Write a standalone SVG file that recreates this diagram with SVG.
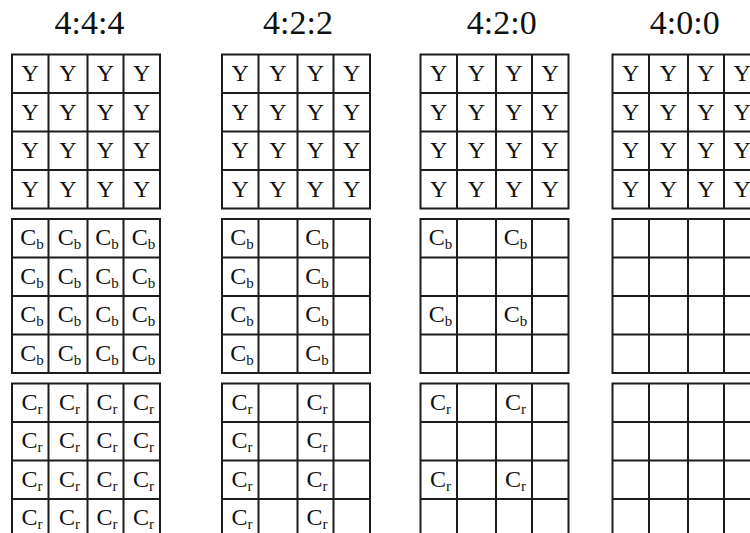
<svg xmlns="http://www.w3.org/2000/svg" xmlns:xlink="http://www.w3.org/1999/xlink" width="750" height="533" viewBox="0 0 750 533">
<style>
.g{fill:none;stroke:#1c1c1c;stroke-width:2}
.ti{font-family:"Liberation Serif","Times New Roman",serif;font-size:34px;text-anchor:middle;fill:#111}
.t{font-family:"Liberation Serif","Times New Roman",serif;font-size:24px;text-anchor:middle;fill:#111}
.s{font-size:15px}
</style>
<defs>
<path id="grid" class="g" d="M0,0 h148 v154 h-148 z M36.5,0 v154 M75.5,0 v154 M111.5,0 v154 M0,38.5 h148 M0,77 h148 M0,115.5 h148"/>
<g id="yb" class="t">
<text x="18.25" y="26.5">Y</text><text x="56" y="26.5">Y</text><text x="93.5" y="26.5">Y</text><text x="129.75" y="26.5">Y</text>
<text x="18.25" y="65">Y</text><text x="56" y="65">Y</text><text x="93.5" y="65">Y</text><text x="129.75" y="65">Y</text>
<text x="18.25" y="103.5">Y</text><text x="56" y="103.5">Y</text><text x="93.5" y="103.5">Y</text><text x="129.75" y="103.5">Y</text>
<text x="18.25" y="142">Y</text><text x="56" y="142">Y</text><text x="93.5" y="142">Y</text><text x="129.75" y="142">Y</text>
</g>
</defs>
<rect width="750" height="533" fill="#fff"/>
<g id="title-444"><text class="ti" x="89.5" y="33.5">4:4:4</text></g>
<g id="title-422"><text class="ti" x="298" y="33.5">4:2:2</text></g>
<g id="title-420"><text class="ti" x="501.7" y="34">4:2:0</text></g>
<g id="title-400"><text class="ti" x="684.7" y="33.5">4:0:0</text></g>

<g id="y-444"><use xlink:href="#grid" x="12" y="54.5"/><use xlink:href="#yb" x="12" y="54.5"/></g>
<g id="y-422"><use xlink:href="#grid" x="222" y="54.5"/><use xlink:href="#yb" x="222" y="54.5"/></g>
<g id="y-420"><use xlink:href="#grid" x="420.5" y="54.5"/><use xlink:href="#yb" x="420.5" y="54.5"/></g>
<g id="y-400"><use xlink:href="#grid" x="612.5" y="54.5"/><use xlink:href="#yb" x="612.5" y="54.5"/></g>

<g id="cb-444"><use xlink:href="#grid" x="12" y="219"/>
<g class="t">
<text x="32" y="245">C<tspan class="s" dy="4">b</tspan></text><text x="69.5" y="245">C<tspan class="s" dy="4">b</tspan></text><text x="107" y="245">C<tspan class="s" dy="4">b</tspan></text><text x="143.5" y="245">C<tspan class="s" dy="4">b</tspan></text>
<text x="32" y="283.5">C<tspan class="s" dy="4">b</tspan></text><text x="69.5" y="283.5">C<tspan class="s" dy="4">b</tspan></text><text x="107" y="283.5">C<tspan class="s" dy="4">b</tspan></text><text x="143.5" y="283.5">C<tspan class="s" dy="4">b</tspan></text>
<text x="32" y="322">C<tspan class="s" dy="4">b</tspan></text><text x="69.5" y="322">C<tspan class="s" dy="4">b</tspan></text><text x="107" y="322">C<tspan class="s" dy="4">b</tspan></text><text x="143.5" y="322">C<tspan class="s" dy="4">b</tspan></text>
<text x="32" y="360.5">C<tspan class="s" dy="4">b</tspan></text><text x="69.5" y="360.5">C<tspan class="s" dy="4">b</tspan></text><text x="107" y="360.5">C<tspan class="s" dy="4">b</tspan></text><text x="143.5" y="360.5">C<tspan class="s" dy="4">b</tspan></text>
</g></g>
<g id="cb-422"><use xlink:href="#grid" x="222" y="219"/>
<g class="t">
<text x="242" y="245">C<tspan class="s" dy="4">b</tspan></text><text x="317" y="245">C<tspan class="s" dy="4">b</tspan></text>
<text x="242" y="283.5">C<tspan class="s" dy="4">b</tspan></text><text x="317" y="283.5">C<tspan class="s" dy="4">b</tspan></text>
<text x="242" y="322">C<tspan class="s" dy="4">b</tspan></text><text x="317" y="322">C<tspan class="s" dy="4">b</tspan></text>
<text x="242" y="360.5">C<tspan class="s" dy="4">b</tspan></text><text x="317" y="360.5">C<tspan class="s" dy="4">b</tspan></text>
</g></g>
<g id="cb-420"><use xlink:href="#grid" x="420.5" y="219"/>
<g class="t">
<text x="440.5" y="245">C<tspan class="s" dy="4">b</tspan></text><text x="515.5" y="245">C<tspan class="s" dy="4">b</tspan></text>
<text x="440.5" y="322">C<tspan class="s" dy="4">b</tspan></text><text x="515.5" y="322">C<tspan class="s" dy="4">b</tspan></text>
</g></g>
<g id="cb-400"><use xlink:href="#grid" x="612.5" y="219"/></g>

<g id="cr-444"><use xlink:href="#grid" x="12" y="383.5"/>
<g class="t">
<text x="32" y="409.5">C<tspan class="s" dy="4">r</tspan></text><text x="69.5" y="409.5">C<tspan class="s" dy="4">r</tspan></text><text x="107" y="409.5">C<tspan class="s" dy="4">r</tspan></text><text x="143.5" y="409.5">C<tspan class="s" dy="4">r</tspan></text>
<text x="32" y="448">C<tspan class="s" dy="4">r</tspan></text><text x="69.5" y="448">C<tspan class="s" dy="4">r</tspan></text><text x="107" y="448">C<tspan class="s" dy="4">r</tspan></text><text x="143.5" y="448">C<tspan class="s" dy="4">r</tspan></text>
<text x="32" y="486.5">C<tspan class="s" dy="4">r</tspan></text><text x="69.5" y="486.5">C<tspan class="s" dy="4">r</tspan></text><text x="107" y="486.5">C<tspan class="s" dy="4">r</tspan></text><text x="143.5" y="486.5">C<tspan class="s" dy="4">r</tspan></text>
<text x="32" y="525">C<tspan class="s" dy="4">r</tspan></text><text x="69.5" y="525">C<tspan class="s" dy="4">r</tspan></text><text x="107" y="525">C<tspan class="s" dy="4">r</tspan></text><text x="143.5" y="525">C<tspan class="s" dy="4">r</tspan></text>
</g></g>
<g id="cr-422"><use xlink:href="#grid" x="222" y="383.5"/>
<g class="t">
<text x="242" y="409.5">C<tspan class="s" dy="4">r</tspan></text><text x="317" y="409.5">C<tspan class="s" dy="4">r</tspan></text>
<text x="242" y="448">C<tspan class="s" dy="4">r</tspan></text><text x="317" y="448">C<tspan class="s" dy="4">r</tspan></text>
<text x="242" y="486.5">C<tspan class="s" dy="4">r</tspan></text><text x="317" y="486.5">C<tspan class="s" dy="4">r</tspan></text>
<text x="242" y="525">C<tspan class="s" dy="4">r</tspan></text><text x="317" y="525">C<tspan class="s" dy="4">r</tspan></text>
</g></g>
<g id="cr-420"><use xlink:href="#grid" x="420.5" y="383.5"/>
<g class="t">
<text x="440.5" y="409.5">C<tspan class="s" dy="4">r</tspan></text><text x="515.5" y="409.5">C<tspan class="s" dy="4">r</tspan></text>
<text x="440.5" y="486.5">C<tspan class="s" dy="4">r</tspan></text><text x="515.5" y="486.5">C<tspan class="s" dy="4">r</tspan></text>
</g></g>
<g id="cr-400"><use xlink:href="#grid" x="612.5" y="383.5"/></g>
<g id="connectors"/>
</svg>
